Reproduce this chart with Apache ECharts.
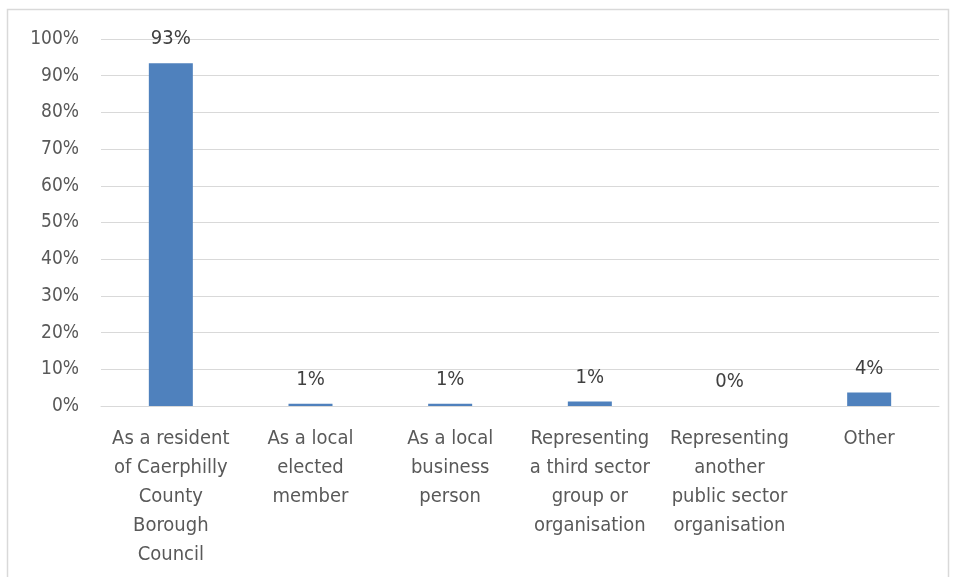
<!DOCTYPE html>
<html><head><meta charset="utf-8">
<script src="https://cdn.jsdelivr.net/npm/echarts@6/dist/echarts.min.js"></script>
<style>html,body{margin:0;padding:0;background:#fff}#c{width:958px;height:577px}</style>
</head><body><div id="c"></div>
<script>
const categories = [
  "As a resident\nof Caerphilly\nCounty\nBorough\nCouncil",
  "As a local\nelected\nmember",
  "As a local\nbusiness\nperson",
  "Representing\na third sector\ngroup or\norganisation",
  "Representing\nanother\npublic sector\norganisation",
  "Other"
];
const values = [93.4, 0.6, 0.6, 1.2, 0, 3.7];
const yTicks = [0,10,20,30,40,50,60,70,80,90,100];
const FONT = '"Liberation Sans Narrow","DejaVu Sans Condensed",sans-serif';
const chart = echarts.init(document.getElementById('c'));
chart.setOption({
  animation:false,
  graphic:[{type:'rect',shape:{x:7.5,y:9.5,width:941,height:580},style:{fill:'none',stroke:'#d9d9d9',lineWidth:1.5}}],
  grid:{left:101,right:19,top:39,bottom:171,containLabel:false},
  xAxis:{type:'category',data:categories,
    axisLine:{lineStyle:{color:'#d9d9d9'}},axisTick:{show:false},
    axisLabel:{interval:0,color:'#595959',fontFamily:FONT,fontSize:20,lineHeight:29,margin:18}},
  yAxis:{type:'value',min:0,max:100,interval:10,
    axisLabel:{formatter:v=>v+'%',color:'#595959',fontFamily:FONT,fontSize:19,margin:22},
    splitLine:{lineStyle:{color:'#d9d9d9'}},axisLine:{show:false},axisTick:{show:false}},
  series:[{type:'bar',data:values,barWidth:44,itemStyle:{color:'#4F81BD'},
    label:{show:true,position:'top',distance:14,formatter:p=>Math.round(p.value)+'%',
      color:'#404040',fontFamily:FONT,fontSize:20}}]
});
</script></body></html>
